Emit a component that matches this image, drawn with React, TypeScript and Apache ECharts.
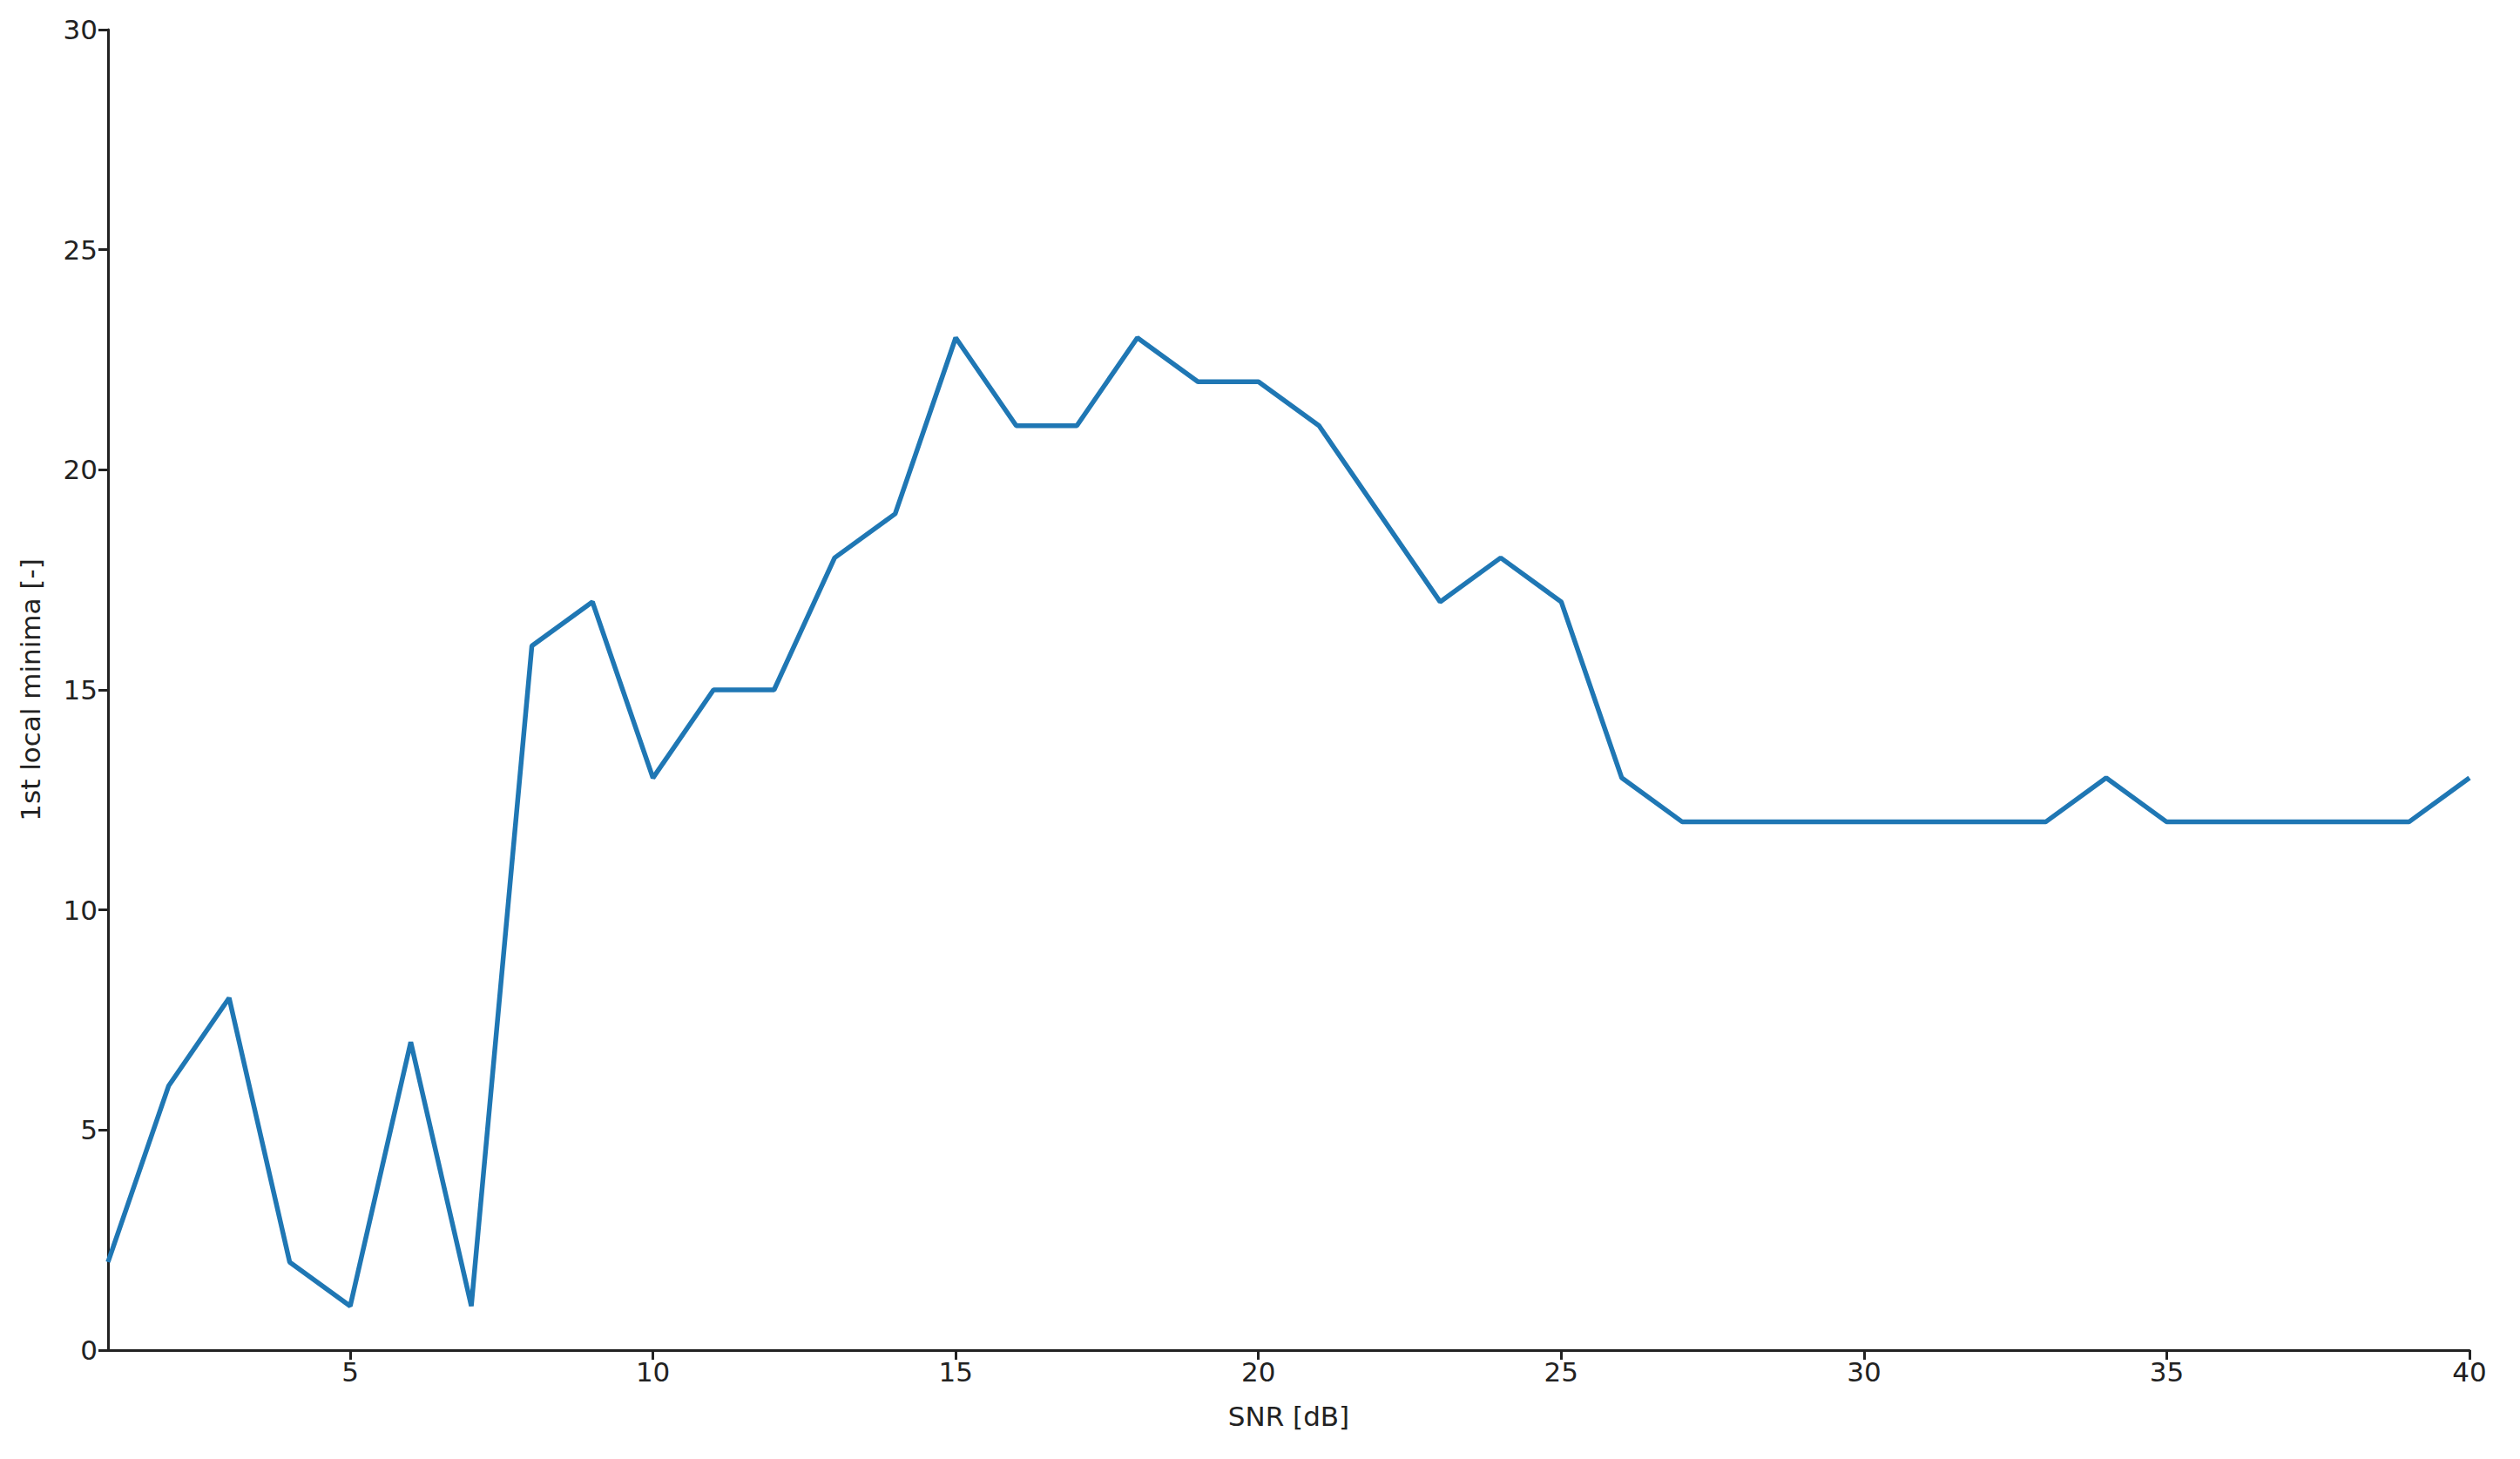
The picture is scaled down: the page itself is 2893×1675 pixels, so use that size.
import React, { useEffect, useRef } from "react";
import * as echarts from "echarts";

const snr: number[] = Array.from({ length: 40 }, (_, i) => i + 1);
const minima: number[] = [
  2, 6, 8, 2, 1, 7, 1, 16, 17, 13,
  15, 15, 18, 19, 23, 21, 21, 23, 22, 22,
  21, 19, 17, 18, 17, 13, 12, 12, 12, 12,
  12, 12, 12, 13, 12, 12, 12, 12, 12, 13,
];
const xTicks: number[] = [5, 10, 15, 20, 25, 30, 35, 40];
const yTicks: number[] = [0, 5, 10, 15, 20, 25, 30];

const FONT = "DejaVu Sans";
const AXIS_COLOR = "#222222";

export default function App() {
  const ref = useRef<HTMLDivElement>(null);
  useEffect(() => {
    if (!ref.current) return;
    const chart = echarts.init(ref.current, null, { renderer: "svg" });
    chart.setOption({
      animation: false,
      backgroundColor: "#ffffff",
      grid: { left: 124, right: 58, top: 34, bottom: 125, containLabel: false },
      xAxis: {
        type: "value",
        min: 1,
        max: 40,
        name: "SNR [dB]",
        nameLocation: "middle",
        nameGap: 60,
        nameTextStyle: { fontFamily: FONT, fontSize: 31, color: AXIS_COLOR },
        axisLine: { show: true, onZero: false, lineStyle: { color: AXIS_COLOR, width: 3 } },
        axisTick: { show: true, length: 11, inside: false, customValues: xTicks, lineStyle: { color: AXIS_COLOR, width: 3 } },
        axisLabel: { customValues: xTicks, margin: 9, fontFamily: FONT, fontSize: 31, color: AXIS_COLOR, showMinLabel: true, showMaxLabel: true },
        splitLine: { show: false },
      },
      yAxis: {
        type: "value",
        min: 0,
        max: 30,
        interval: 5,
        name: "1st local minima [-]",
        nameLocation: "middle",
        nameRotate: 90,
        nameGap: 74,
        nameTextStyle: { fontFamily: FONT, fontSize: 31, color: AXIS_COLOR },
        axisLine: { show: true, onZero: false, lineStyle: { color: AXIS_COLOR, width: 3 } },
        axisTick: { show: true, length: 11, inside: false, lineStyle: { color: AXIS_COLOR, width: 3 } },
        axisLabel: { margin: 12, fontFamily: FONT, fontSize: 31, color: AXIS_COLOR, formatter: (v: number) => (yTicks.includes(v) ? String(v) : "") },
        splitLine: { show: false },
      },
      series: [
        {
          type: "line",
          data: snr.map((x, i) => [x, minima[i]]),
          showSymbol: false,
          symbol: "none",
          lineStyle: { color: "#1f77b4", width: 5.5 },
          clip: true,
        },
      ],
    });
    return () => chart.dispose();
  }, []);
  return <div ref={ref} style={{ width: 2893, height: 1675, position: "absolute", left: 0, top: 0 }} />;
}
